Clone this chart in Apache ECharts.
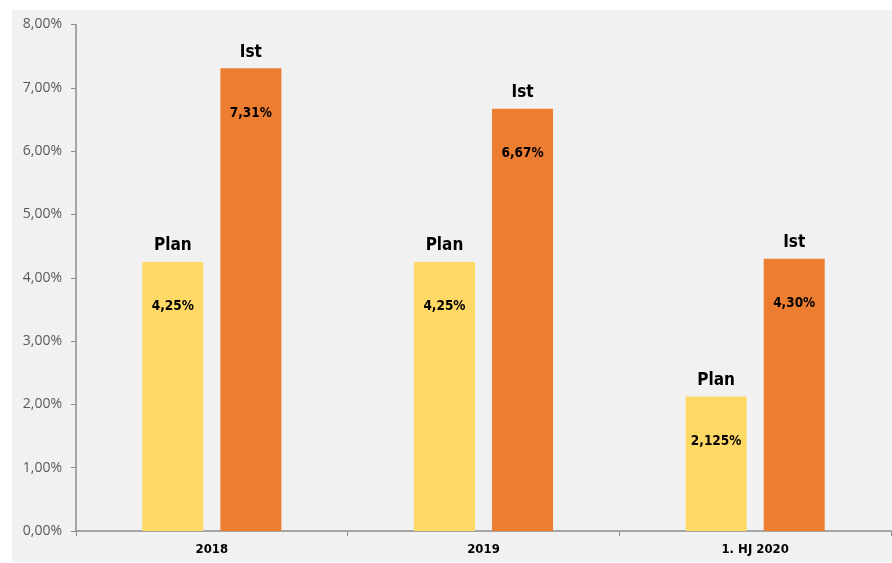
<!DOCTYPE html>
<html>
<head>
<meta charset="utf-8">
<script src="https://cdn.jsdelivr.net/npm/echarts@6/dist/echarts.min.js"></script>
<style>
html,body{margin:0;padding:0;background:#fff;}
#c{width:892px;height:563px;}
</style>
</head>
<body>
<div id="c"></div>
<script>
var categories = ['2018', '2019', '1. HJ 2020'];
var planValues = [4.25, 4.25, 2.125];
var istValues = [7.31, 6.67, 4.30];
var planLabels = ['4,25%', '4,25%', '2,125%'];
var istLabels = ['7,31%', '6,67%', '4,30%'];
var yTicks = [0, 1, 2, 3, 4, 5, 6, 7, 8];

var narrow = '"Liberation Sans Narrow", "Arial Narrow", "DejaVu Sans Condensed", sans-serif';

function makeLabel(name, texts) {
  return {
    show: true,
    position: 'insideTop',
    distance: 0,
    offset: [0, -26],
    formatter: function (p) {
      return '{n|' + name + '}\n{s| }\n{v|' + texts[p.dataIndex] + '}';
    },
    rich: {
      n: { fontFamily: narrow, fontSize: 17, fontWeight: 'bold', color: '#000', lineHeight: 20, align: 'center' },
      s: { fontSize: 10, lineHeight: 43 },
      v: { fontFamily: narrow, fontSize: 13.5, fontWeight: 'bold', color: '#000', lineHeight: 16, align: 'center' }
    }
  };
}

var chart = echarts.init(document.getElementById('c'), null, { renderer: 'canvas' });
chart.setOption({
  backgroundColor: '#ffffff',
  animation: false,
  graphic: [{
    type: 'rect', left: 12, top: 10, z: -10, silent: true,
    shape: { width: 880, height: 552 },
    style: { fill: '#f1f1f1' }
  }],
  grid: { left: 76, right: 1, top: 24.5, bottom: 32, containLabel: false },
  xAxis: {
    type: 'category',
    data: categories,
    axisLine: { lineStyle: { color: '#8c8c8c', width: 1.5 } },
    axisTick: { show: true, alignWithLabel: false, length: 5, lineStyle: { color: '#8c8c8c' } },
    axisLabel: { fontFamily: narrow, fontSize: 13, fontWeight: 'bold', color: '#000', margin: 12 }
  },
  yAxis: {
    type: 'value',
    min: yTicks[0],
    max: yTicks[yTicks.length - 1],
    interval: 1,
    axisLine: { show: true, lineStyle: { color: '#8c8c8c', width: 1.5 } },
    axisTick: { show: true, length: 5, lineStyle: { color: '#8c8c8c' } },
    splitLine: { show: false },
    axisLabel: {
      fontFamily: '"Open Sans", "Noto Sans", sans-serif',
      fontSize: 14, color: '#595959', margin: 14,
      formatter: function (v) { return v.toFixed(2).replace('.', ',') + '%'; }
    }
  },
  series: [{
    name: 'Plan',
    type: 'bar',
    data: planValues,
    barWidth: 61,
    barGap: '28%',
    itemStyle: { color: '#ffd966' },
    label: makeLabel('Plan', planLabels)
  }, {
    name: 'Ist',
    type: 'bar',
    data: istValues,
    barWidth: 61,
    barGap: '28%',
    itemStyle: { color: '#ed7d31' },
    label: makeLabel('Ist', istLabels)
  }]
});
</script>
</body>
</html>
